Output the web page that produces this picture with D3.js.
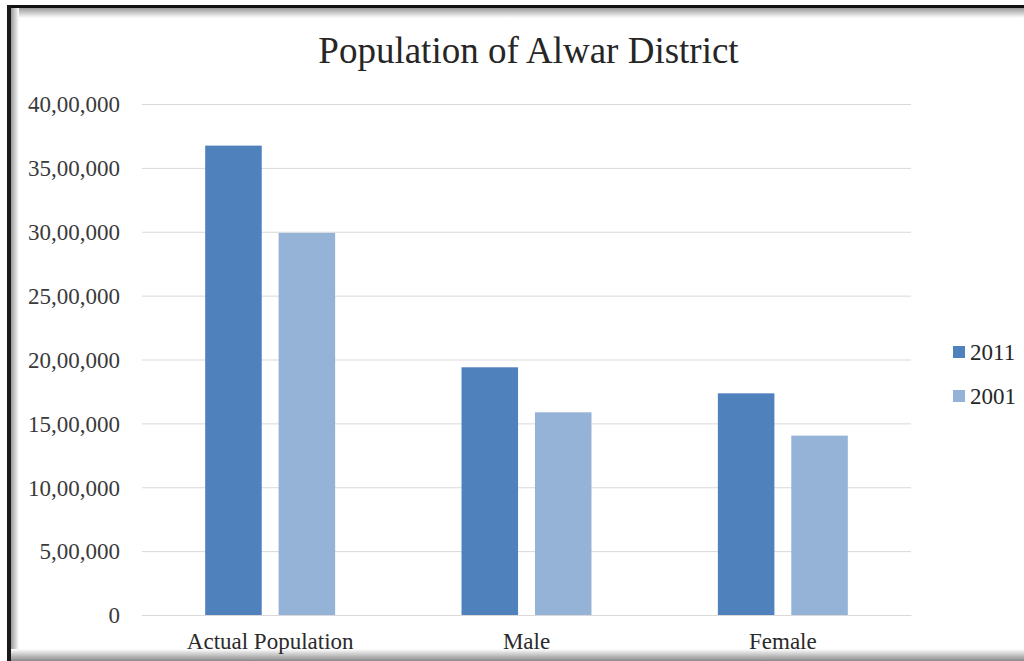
<!DOCTYPE html>
<html>
<head>
<meta charset="utf-8">
<script src="https://cdn.jsdelivr.net/npm/d3@7"></script>
<style>
  html, body { margin: 0; padding: 0; background: #ffffff; }
  svg { display: block; }
  text { font-family: "Liberation Serif", "Times New Roman", serif; }
</style>
</head>
<body>
<svg id="chart" width="1024" height="661"></svg>
<script>
const title = "Population of Alwar District";
const categories = ["Actual Population", "Male", "Female"];
const seriesNames = ["2011", "2001"];
const values2011 = [3674179, 1939026, 1735153];
const values2001 = [2990862, 1586752, 1404110];
const yTicks = [0, 500000, 1000000, 1500000, 2000000, 2500000, 3000000, 3500000, 4000000];
const colors = ["#4f81bd", "#95b3d7"];

function indianFormat(n) {
  const s = String(Math.round(n));
  if (s.length <= 3) return s;
  const last3 = s.slice(-3);
  let rest = s.slice(0, -3);
  const parts = [];
  while (rest.length > 2) { parts.unshift(rest.slice(-2)); rest = rest.slice(0, -2); }
  if (rest.length) parts.unshift(rest);
  return parts.join(",") + "," + last3;
}

const svg = d3.select("#chart");
const W = 1024, H = 661;
const plot = { left: 142, right: 911, top: 104, bottom: 615 };

// frame shadows
const defs = svg.append("defs");
function grad(id, x1, y1, x2, y2, stops) {
  const g = defs.append("linearGradient").attr("id", id)
    .attr("x1", x1).attr("y1", y1).attr("x2", x2).attr("y2", y2);
  stops.forEach(s => g.append("stop").attr("offset", s[0]).attr("stop-color", s[1]));
}
grad("topShadow", 0, 0, 0, 1, [[0, "#9a9a9a"], [1, "#ffffff"]]);
grad("leftShadow", 0, 0, 1, 0, [[0, "#9a9a9a"], [1, "#ffffff"]]);
grad("botShadow", 0, 0, 0, 1, [[0, "#ffffff"], [1, "#8a8a8a"]]);

svg.append("rect").attr("x", 0).attr("y", 0).attr("width", W).attr("height", H).attr("fill", "#ffffff");
svg.append("rect").attr("x", 10).attr("y", 8).attr("width", W - 10).attr("height", 10).attr("fill", "url(#topShadow)");
svg.append("rect").attr("x", 11).attr("y", 8).attr("width", 8).attr("height", H - 8).attr("fill", "url(#leftShadow)");
svg.append("rect").attr("x", 8).attr("y", 649).attr("width", W - 8).attr("height", 12).attr("fill", "url(#botShadow)");
svg.append("rect").attr("x", 8).attr("y", 5).attr("width", W - 8).attr("height", 3).attr("fill", "#111111");
svg.append("rect").attr("x", 7).attr("y", 5).attr("width", 4).attr("height", H - 5).attr("fill", "#1a1a1a");

// scales
const y = d3.scaleLinear().domain([0, 4000000]).range([plot.bottom, plot.top]);
const x0 = d3.scaleBand().domain(categories).range([plot.left, plot.right])
  .paddingInner(0.493).paddingOuter(0.2465);
const x1 = d3.scaleBand().domain(seriesNames).range([0, x0.bandwidth()]).paddingInner(0.23);

// grid via axis
const yAxis = d3.axisLeft(y).tickValues(yTicks)
  .tickSize(-(plot.right - plot.left)).tickPadding(22).tickFormat(indianFormat);
const gy = svg.append("g").attr("transform", `translate(${plot.left},0)`).call(yAxis);
gy.select(".domain").remove();
gy.selectAll(".tick line").attr("stroke", "#d9d9d9").attr("stroke-width", 1);
gy.selectAll(".tick text")
  .attr("fill", "#3a3a3a")
  .style("font-size", "23px")
  .attr("dy", "0.34em");

// bars
const data = categories.map((c, i) => ({ cat: c, vals: [
  { key: seriesNames[0], v: values2011[i] },
  { key: seriesNames[1], v: values2001[i] }
]}));
const groups = svg.append("g").selectAll("g").data(data).join("g")
  .attr("transform", d => `translate(${x0(d.cat)},0)`);
groups.selectAll("rect").data(d => d.vals).join("rect")
  .attr("x", d => x1(d.key))
  .attr("width", x1.bandwidth())
  .attr("y", d => y(d.v))
  .attr("height", d => y(0) - y(d.v))
  .attr("fill", (d, i) => colors[i]);

// x axis
const xAxis = d3.axisBottom(x0).tickSize(0).tickPadding(18);
const gx = svg.append("g").attr("transform", `translate(0,${plot.bottom})`).call(xAxis);
gx.select(".domain").attr("stroke", "#d9d9d9");
gx.selectAll(".tick text")
  .attr("fill", "#2a2a2a")
  .style("font-size", "23px");

// title
svg.append("text").attr("x", (plot.left + plot.right) / 2 + 2).attr("y", 63)
  .attr("text-anchor", "middle").attr("fill", "#262626")
  .style("font-size", "37px").text(title);

// legend
const legend = svg.append("g").selectAll("g").data(seriesNames).join("g")
  .attr("transform", (d, i) => `translate(953,${352 + i * 44})`);
legend.append("rect").attr("x", 0).attr("y", -6).attr("width", 12).attr("height", 12)
  .attr("fill", (d, i) => colors[i]);
legend.append("text").attr("x", 17).attr("y", 0).attr("dy", "0.34em")
  .attr("fill", "#262626").style("font-size", "23px").text(d => d);
</script>
</body>
</html>
